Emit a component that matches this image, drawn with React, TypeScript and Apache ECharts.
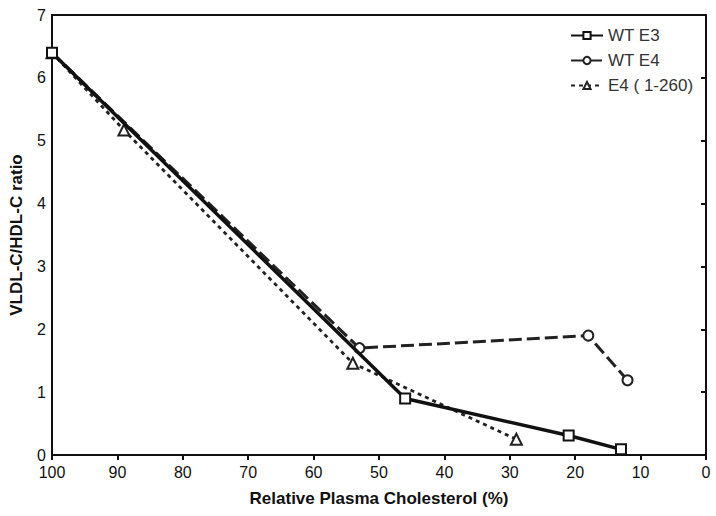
import React, { useEffect, useRef } from "react";
import * as echarts from "echarts";

const xTicks = [100, 90, 80, 70, 60, 50, 40, 30, 20, 10, 0];
const yTicks = [0, 1, 2, 3, 4, 5, 6, 7];

const seriesNames = ["WT E3", "WT E4", "E4 ( 1-260)"];
const e3X = [100, 46, 21, 13];
const e3Y = [6.4, 0.9, 0.31, 0.09];
const e4X = [100, 53, 18, 12];
const e4Y = [6.4, 1.7, 1.9, 1.19];
const e4tX = [100, 89, 54, 29];
const e4tY = [6.4, 5.17, 1.46, 0.25];

const zip = (xs: number[], ys: number[]) => xs.map((x, i) => [x, ys[i]]);

export default function App() {
  const ref = useRef<HTMLDivElement>(null);
  useEffect(() => {
    if (!ref.current) return;
    const chart = echarts.init(ref.current, null, { renderer: "svg" });
    const font = "'Liberation Sans', Arial, sans-serif";
    chart.setOption({
      animation: false,
      backgroundColor: "#fff",
      grid: {
        left: 50,
        right: 10,
        top: 15,
        bottom: 61,
        show: true,
        borderColor: "#111",
        borderWidth: 2,
        backgroundColor: "transparent",
      },
      legend: {
        left: 570,
        top: 27,
        padding: 0,
        orient: "vertical",
        itemWidth: 32,
        itemHeight: 9,
        itemGap: 8,
        textStyle: { fontFamily: font, fontSize: 17, color: "#333" },
        data: seriesNames,
      },
      xAxis: {
        type: "value",
        inverse: true,
        min: 0,
        max: 100,
        interval: 10,
        name: "Relative Plasma Cholesterol (%)",
        nameLocation: "middle",
        nameGap: 35,
        nameTextStyle: { fontFamily: font, fontSize: 17, fontWeight: "bold", color: "#111" },
        axisLine: { show: true, lineStyle: { color: "#111", width: 2 } },
        axisTick: { show: true, length: 5, lineStyle: { color: "#111", width: 2 } },
        axisLabel: {
          fontFamily: font,
          fontSize: 16,
          color: "#111",
          margin: 9,
          formatter: (v: number) => (xTicks.includes(v) ? String(v) : ""),
        },
        splitLine: { show: false },
      },
      yAxis: {
        type: "value",
        min: 0,
        max: 7,
        interval: 1,
        name: "VLDL-C/HDL-C ratio",
        nameLocation: "middle",
        nameGap: 27,
        nameRotate: 90,
        nameTextStyle: { fontFamily: font, fontSize: 17, fontWeight: "bold", color: "#111" },
        axisLine: { show: true, lineStyle: { color: "#111", width: 2 } },
        axisTick: { show: true, length: 5, lineStyle: { color: "#111", width: 2 } },
        axisLabel: {
          fontFamily: font,
          fontSize: 16,
          color: "#111",
          margin: 6,
          formatter: (v: number) => (yTicks.includes(v) ? String(v) : ""),
        },
        splitLine: { show: false },
      },
      series: [
        {
          name: seriesNames[0],
          type: "line",
          data: zip(e3X, e3Y),
          symbol: "rect",
          symbolSize: 10,
          lineStyle: { color: "#111", width: 3.5, type: "solid" },
          itemStyle: { color: "#fff", borderColor: "#111", borderWidth: 2 },
          z: 3,
        },
        {
          name: seriesNames[1],
          type: "line",
          data: zip(e4X, e4Y),
          symbol: "circle",
          symbolSize: 10,
          lineStyle: { color: "#222", width: 3, type: [13, 5] },
          itemStyle: { color: "#fff", borderColor: "#222", borderWidth: 2 },
          z: 2,
        },
        {
          name: seriesNames[2],
          type: "line",
          data: zip(e4tX, e4tY),
          symbol: "triangle",
          symbolSize: 11,
          lineStyle: { color: "#222", width: 2.8, type: [4, 4] },
          itemStyle: { color: "#fff", borderColor: "#222", borderWidth: 2 },
          z: 1,
        },
      ],
    });
    return () => chart.dispose();
  }, []);
  return (
    <div
      ref={ref}
      style={{ position: "fixed", left: 0, top: 0, width: 716, height: 516 }}
    />
  );
}
